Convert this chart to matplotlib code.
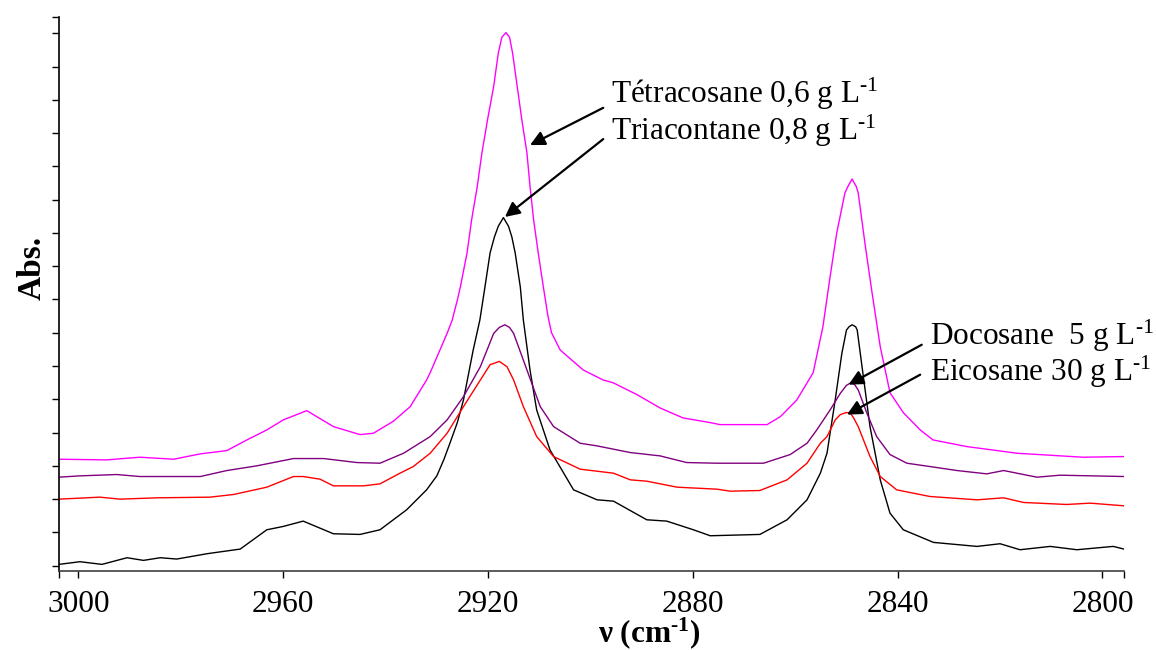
import matplotlib
matplotlib.use("Agg")
import matplotlib.pyplot as plt
from matplotlib.ticker import MultipleLocator, FixedLocator, NullFormatter

plt.rcParams['font.family'] = ['Liberation Serif', 'DejaVu Serif']
plt.rcParams['mathtext.fontset'] = 'custom'
plt.rcParams['mathtext.rm'] = 'Liberation Serif'
plt.rcParams['mathtext.it'] = 'Liberation Serif:italic'
plt.rcParams['mathtext.bf'] = 'Liberation Serif:bold'

# ---- FTIR spectra in the C-H stretching region (wavenumber cm-1, absorbance a.u.) ----
tetracosane_nu = [3003.8, 2994.5, 2988.0, 2981.4, 2976.2, 2971.0, 2967.1, 2963.2, 2960.0,
                  2955.4, 2950.2, 2945.0, 2942.4, 2938.5, 2935.2, 2932.0, 2931.3, 2928.0,
                  2927.0, 2926.0, 2925.4, 2924.1, 2923.2, 2922.1, 2921.2, 2920.1, 2918.9,
                  2918.0, 2917.3, 2916.5, 2915.8, 2915.2, 2914.3, 2913.4, 2912.4, 2911.8,
                  2911.1, 2910.2, 2909.2, 2908.3, 2907.6, 2905.9, 2901.4, 2897.5, 2895.6,
                  2890.9, 2886.4, 2881.9, 2876.6, 2874.7, 2865.5, 2862.9, 2859.7, 2856.5,
                  2854.6, 2853.2, 2851.9, 2850.3, 2849.7, 2848.9, 2848.1, 2847.7, 2846.4,
                  2845.0, 2843.4, 2841.5, 2838.9, 2835.6, 2833.1, 2826.5, 2816.7, 2803.8,
                  2795.8]
tetracosane_abs = [0.160, 0.159, 0.163, 0.160, 0.168, 0.173, 0.189, 0.204, 0.219,
                   0.233, 0.209, 0.197, 0.199, 0.217, 0.239, 0.279, 0.290, 0.349,
                   0.369, 0.399, 0.419, 0.470, 0.520, 0.570, 0.620, 0.670, 0.720,
                   0.770, 0.794, 0.801, 0.794, 0.770, 0.720, 0.670, 0.620, 0.570,
                   0.520, 0.470, 0.419, 0.375, 0.350, 0.324, 0.294, 0.279, 0.275,
                   0.257, 0.237, 0.222, 0.215, 0.212, 0.212, 0.224, 0.249, 0.290,
                   0.359, 0.434, 0.500, 0.560, 0.570, 0.581, 0.570, 0.560, 0.485,
                   0.410, 0.329, 0.260, 0.230, 0.204, 0.189, 0.179, 0.169, 0.163,
                   0.164]

triacontane_nu = [3003.8, 2999.7, 2995.4, 2990.5, 2987.3, 2984.0, 2980.8, 2974.9, 2968.4,
                  2963.2, 2960.0, 2956.1, 2950.2, 2945.0, 2941.1, 2935.9, 2932.0, 2930.0,
                  2928.6, 2927.4, 2926.0, 2924.8, 2922.9, 2921.6, 2920.6, 2919.6, 2918.75,
                  2918.0, 2917.0, 2916.0, 2915.35, 2914.7, 2913.7, 2913.1, 2911.8, 2910.5,
                  2907.9, 2903.3, 2898.7, 2895.5, 2889.0, 2885.1, 2879.9, 2876.6, 2866.9,
                  2861.6, 2857.7, 2855.1, 2853.8, 2852.2, 2850.9, 2850.0, 2849.5, 2848.9,
                  2848.2, 2847.9, 2846.7, 2845.4, 2843.4, 2841.5, 2838.9, 2833.0, 2824.5,
                  2820.0, 2816.1, 2810.2, 2805.0, 2797.9, 2795.8]
triacontane_abs = [0.002, 0.006, 0.002, 0.012, 0.008, 0.012, 0.010, 0.018, 0.025,
                   0.054, 0.059, 0.067, 0.048, 0.047, 0.054, 0.084, 0.114, 0.135,
                   0.160, 0.185, 0.215, 0.249, 0.324, 0.369, 0.419, 0.470, 0.494,
                   0.510, 0.523, 0.510, 0.494, 0.470, 0.419, 0.369, 0.294, 0.234,
                   0.174, 0.114, 0.099, 0.097, 0.069, 0.067, 0.054, 0.045, 0.047,
                   0.069, 0.099, 0.139, 0.169, 0.249, 0.319, 0.354, 0.359, 0.362,
                   0.359, 0.354, 0.284, 0.209, 0.129, 0.079, 0.054, 0.035, 0.029,
                   0.033, 0.024, 0.029, 0.024, 0.029, 0.025]

docosane_nu = [3003.8, 2999.7, 2992.5, 2988.0, 2976.2, 2971.0, 2965.2, 2958.0, 2952.1,
               2945.6, 2941.1, 2936.5, 2931.3, 2928.0, 2924.8, 2921.5, 2918.9, 2917.8,
               2916.7, 2915.8, 2915.0, 2912.4, 2909.8, 2907.2, 2902.0, 2898.7, 2892.2,
               2886.4, 2881.2, 2875.3, 2866.2, 2861.0, 2857.7, 2855.8, 2853.2, 2851.2,
               2850.0, 2849.1, 2848.4, 2847.7, 2846.0, 2844.1, 2841.5, 2838.2, 2833.7,
               2828.4, 2822.6, 2819.3, 2812.8, 2808.3, 2795.8]
docosane_abs = [0.133, 0.135, 0.137, 0.134, 0.134, 0.143, 0.150, 0.161, 0.161,
                0.155, 0.154, 0.169, 0.194, 0.219, 0.254, 0.299, 0.349, 0.358,
                0.362, 0.358, 0.349, 0.294, 0.239, 0.209, 0.184, 0.180, 0.170,
                0.165, 0.155, 0.154, 0.154, 0.167, 0.184, 0.204, 0.234, 0.259,
                0.271, 0.275, 0.272, 0.264, 0.229, 0.194, 0.167, 0.154, 0.149,
                0.143, 0.138, 0.143, 0.133, 0.136, 0.134]

eicosane_nu = [3003.8, 2995.8, 2991.9, 2984.7, 2974.3, 2969.7, 2963.2, 2958.0, 2956.1,
               2952.8, 2950.2, 2944.3, 2941.1, 2937.2, 2934.6, 2931.3, 2928.0, 2924.8,
               2921.5, 2919.6, 2917.8, 2916.3, 2915.0, 2913.1, 2910.5, 2907.2, 2902.0,
               2898.7, 2895.5, 2892.2, 2889.0, 2883.1, 2875.3, 2872.7, 2866.9, 2861.6,
               2857.7, 2855.1, 2853.8, 2852.2, 2851.2, 2850.1, 2849.3, 2848.6, 2847.7,
               2845.4, 2843.4, 2840.2, 2833.7, 2824.5, 2819.3, 2815.4, 2807.0, 2802.4,
               2795.8]
eicosane_abs = [0.100, 0.103, 0.100, 0.102, 0.103, 0.107, 0.118, 0.134, 0.134,
                0.130, 0.120, 0.120, 0.123, 0.139, 0.149, 0.169, 0.199, 0.239,
                0.279, 0.302, 0.307, 0.299, 0.279, 0.239, 0.194, 0.164, 0.145,
                0.142, 0.139, 0.129, 0.127, 0.118, 0.115, 0.112, 0.113, 0.129,
                0.154, 0.184, 0.194, 0.219, 0.227, 0.230, 0.230, 0.222, 0.209,
                0.164, 0.134, 0.114, 0.104, 0.099, 0.102, 0.095, 0.092, 0.094,
                0.090]

x_ticks = [3000, 2960, 2920, 2880, 2840, 2800]

fig = plt.figure(figsize=(11.56, 6.5), dpi=100)
ax = fig.add_axes([0.051, 0.122, 0.9213, 0.8514])

ax.plot(tetracosane_nu, tetracosane_abs, color='#FF00FF', lw=1.0)
ax.plot(triacontane_nu, triacontane_abs, color='black', lw=1.0)
ax.plot(docosane_nu, docosane_abs, color='#800080', lw=1.0)
ax.plot(eicosane_nu, eicosane_abs, color='#FF0000', lw=1.0)

x_lo, x_hi = 3003.8, 2795.8
y_lo, y_hi = -0.0075, 0.824
ax.set_xlim(x_lo, x_hi)
ax.set_ylim(y_lo, y_hi)

for side in ('top', 'right'):
    ax.spines[side].set_visible(False)
ax.spines['left'].set_linewidth(1.2)
ax.spines['bottom'].set_linewidth(1.2)
ax.spines['bottom'].set_color('#404040')

ax.xaxis.set_major_locator(FixedLocator(x_ticks))
ax.xaxis.set_minor_locator(FixedLocator([x_lo, x_hi]))
ax.xaxis.set_minor_formatter(NullFormatter())
ax.tick_params(axis='x', which='both', direction='out', length=5, width=1.0,
               labelsize=22.5, pad=9)

ax.yaxis.set_major_locator(MultipleLocator(0.05))
ax.yaxis.set_minor_locator(FixedLocator([y_hi]))
ax.yaxis.set_major_formatter(NullFormatter())
ax.tick_params(axis='y', which='both', direction='out', length=5, width=1.0)

ax.set_ylabel('Abs.', fontsize=24, fontweight='bold')
ax.yaxis.set_label_coords(-0.011, 0.547)
ax.set_xlabel('$\\mathbf{\\nu}$ (cm$^{\\mathbf{\u20101}}$)', fontsize=22.5,
              fontweight='bold')
ax.xaxis.set_label_coords(0.554, -0.080)

arrow_kw = dict(arrowstyle='-|>', color='black', lw=1.6, mutation_scale=22,
                shrinkA=0, shrinkB=0)
label_fs = 22.5

# upper pair of labels (main CH2 band)
ax.annotate('', xy=(2911.8, 0.632), xytext=(2897.5, 0.688), arrowprops=arrow_kw)
ax.annotate('', xy=(2916.7, 0.524), xytext=(2897.5, 0.641), arrowprops=arrow_kw)
ax.text(2896.0, 0.695, r'Tétracosane 0,6 g L$^{\text{-1}}$', fontsize=label_fs, va='baseline')
ax.text(2896.0, 0.640, r'Triacontane 0,8 g L$^{\text{-1}}$', fontsize=label_fs, va='baseline')

# lower pair of labels (symmetric CH2 band)
ax.annotate('', xy=(2849.6, 0.272), xytext=(2835.3, 0.332), arrowprops=arrow_kw)
ax.annotate('', xy=(2849.9, 0.227), xytext=(2835.6, 0.287), arrowprops=arrow_kw)
ax.text(2833.7, 0.332, r'Docosane  5 g L$^{\text{-1}}$', fontsize=label_fs, va='baseline')
ax.text(2833.7, 0.277, r'Eicosane 30 g L$^{\text{-1}}$', fontsize=label_fs, va='baseline')

fig.savefig('out.png', dpi=100)
